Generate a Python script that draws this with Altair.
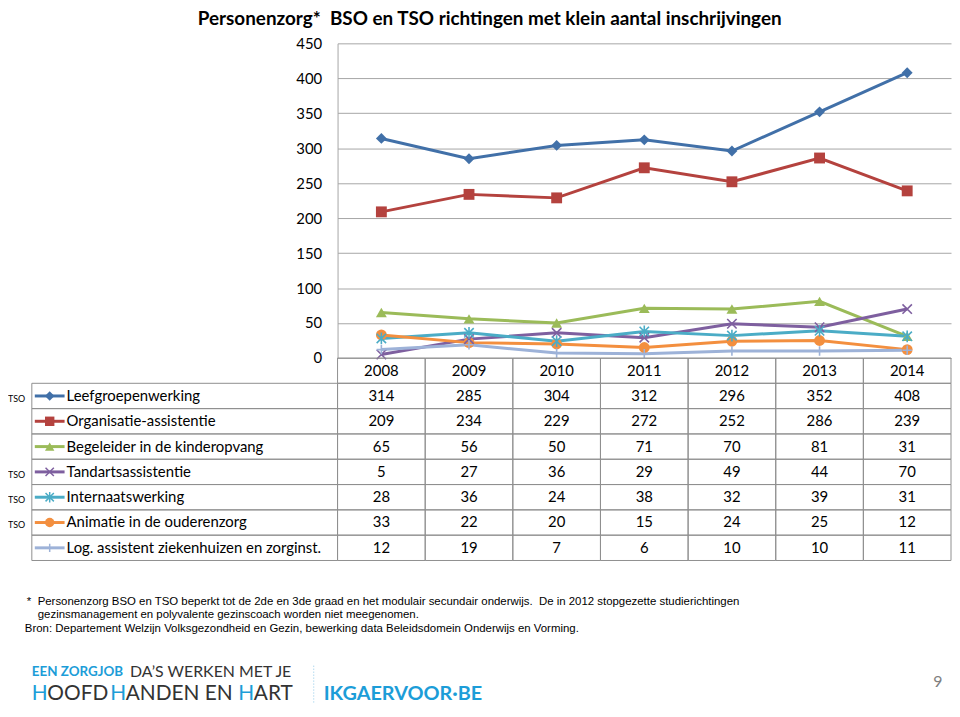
import altair as alt
import pandas as pd

# ---------------- data ----------------
years = ["2008", "2009", "2010", "2011", "2012", "2013", "2014"]
series = [
    "Leefgroepenwerking",
    "Organisatie-assistentie",
    "Begeleider in de kinderopvang",
    "Tandartsassistentie",
    "Internaatswerking",
    "Animatie in de ouderenzorg",
    "Log. assistent ziekenhuizen en zorginst.",
]
v_leefgroep = [314, 285, 304, 312, 296, 352, 408]
v_organisatie = [209, 234, 229, 272, 252, 286, 239]
v_begeleider = [65, 56, 50, 71, 70, 81, 31]
v_tandarts = [5, 27, 36, 29, 49, 44, 70]
v_internaat = [28, 36, 24, 38, 32, 39, 31]
v_animatie = [33, 22, 20, 15, 24, 25, 12]
v_logistiek = [12, 19, 7, 6, 10, 10, 11]
all_values = [v_leefgroep, v_organisatie, v_begeleider, v_tandarts,
              v_internaat, v_animatie, v_logistiek]
tso_flags = ["TSO", "", "", "TSO", "TSO", "TSO", ""]

title_text = "Personenzorg*\u00a0 BSO en TSO richtingen met klein aantal inschrijvingen"
note_1 = "*\u00a0 Personenzorg BSO en TSO beperkt tot de 2de en 3de graad en het modulair secundair onderwijs.\u00a0 De in 2012 stopgezette studierichtingen"
note_2 = "gezinsmanagement en polyvalente gezinscoach worden niet meegenomen."
note_3 = "Bron: Departement Welzijn Volksgezondheid en Gezin, bewerking data Beleidsdomein Onderwijs en Vorming."

# ---------------- styles ----------------
colors = ["#4170A8", "#B4423E", "#9BBB59", "#7E5F9F", "#4BACC6", "#F38F3F", "#9DB2D8"]
X_PATH = "M-1,-1L1,1M1,-1L-1,1"
STAR_PATH = "M-1,-1L1,1M1,-1L-1,1M0,-1.25L0,1.25"
PLUS_PATH = "M0,-1L0,1M-1,0L1,0"
shapes = ["diamond", "square", "triangle-up", X_PATH, STAR_PATH, "circle", PLUS_PATH]
filled = [True, True, True, False, False, True, False]

FONT = "Lato"
GRID = "#a6a6a6"
BORDER = "#8f8f8f"
CYAN = "#1c9dd8"
DARK = "#333333"

# ---------------- tables ----------------
long_rows = []
for s, vals, f in zip(series, all_values, filled):
    for y, v in zip(years, vals):
        long_rows.append({"series": s, "year": y, "value": v, "filled": f})
df = pd.DataFrame(long_rows)

cell_rows = [{"row": "_hdr", "year": y, "text": y} for y in years]
for s, vals in zip(series, all_values):
    for y, v in zip(years, vals):
        cell_rows.append({"row": s, "year": y, "text": str(v)})
cells_df = pd.DataFrame(cell_rows)

leg_df = pd.DataFrame({"series": series, "tso": tso_flags, "filled": filled})

color_scale = alt.Scale(domain=series, range=colors)
shape_scale = alt.Scale(domain=series, range=shapes)
color = alt.Color("series:N", scale=color_scale, legend=None)
shape = alt.Shape("series:N", scale=shape_scale, legend=None)

# ---------------- line chart ----------------
x_line = alt.X("year:O", scale=alt.Scale(type="point", domain=years, padding=0.5), axis=None)
y_line = alt.Y(
    "value:Q",
    scale=alt.Scale(domain=[0, 450], nice=False),
    axis=alt.Axis(values=list(range(0, 451, 50)), grid=True, gridColor=GRID,
                  domainColor=GRID, ticks=False, labelFont=FONT, labelFontSize=15,
                  labelColor="black", labelPadding=16, title=None),
)
base = alt.Chart(df)
lines = base.mark_line(strokeWidth=3).encode(x=x_line, y=y_line, color=color)
pts_f = base.transform_filter("datum.filled").mark_point(
    filled=True, size=120, opacity=1).encode(x=x_line, y=y_line, color=color, shape=shape)
pts_s = base.transform_filter("!datum.filled").mark_point(
    filled=False, size=90, strokeWidth=1.6, opacity=1).encode(x=x_line, y=y_line, color=color, shape=shape)
line_chart = alt.layer(lines, pts_f, pts_s).properties(width=618, height=317)

# ---------------- table chart ----------------
row_scale = alt.Scale(domain=["_hdr"] + series, paddingInner=0, paddingOuter=0)
col_scale = alt.Scale(domain=years, paddingInner=0, paddingOuter=0)
X = alt.X("year:N", scale=col_scale, axis=None)
Y = alt.Y("row:N", scale=row_scale, axis=None)
Yc = alt.Y("row:N", scale=row_scale, axis=None, bandPosition=0.5)
Ys = alt.Y("series:N", scale=row_scale, axis=None)
Ysc = alt.Y("series:N", scale=row_scale, axis=None, bandPosition=0.5)

cells = alt.Chart(cells_df).mark_rect(fillOpacity=0, stroke=BORDER, strokeWidth=1).encode(x=X, y=Y)
cell_text = alt.Chart(cells_df).mark_text(font=FONT, fontSize=15, color="black").encode(
    x=X, y=Yc, text="text:N")
leg_cells = alt.Chart(leg_df).mark_rect(fillOpacity=0, stroke=BORDER, strokeWidth=1).encode(
    x=alt.value(-308), x2=alt.value(0), y=Ys)
leg_text = alt.Chart(leg_df).mark_text(align="left", font=FONT, fontSize=15, color="black").encode(
    x=alt.value(-273), y=Ysc, text="series:N")
leg_rule = alt.Chart(leg_df).mark_rule(strokeWidth=3).encode(
    x=alt.value(-305), x2=alt.value(-275), y=Ysc, color=color)
leg_pf = alt.Chart(leg_df).transform_filter("datum.filled").mark_point(
    filled=True, size=90, opacity=1).encode(x=alt.value(-290), y=Ysc, color=color, shape=shape)
leg_ps = alt.Chart(leg_df).transform_filter("!datum.filled").mark_point(
    filled=False, size=70, strokeWidth=1.5, opacity=1).encode(x=alt.value(-290), y=Ysc, color=color, shape=shape)
tso_text = alt.Chart(leg_df).mark_text(align="left", font=FONT, fontSize=9, color="black", dy=3).encode(
    x=alt.value(-332), y=Ysc, text="tso:N")


def label(txt, x, y, size, col="black", weight="normal", font=FONT, align="left"):
    return alt.Chart(pd.DataFrame({"t": [txt]})).mark_text(
        align=align, baseline="middle", fontSize=size, color=col, fontWeight=weight, font=font
    ).encode(x=alt.value(x), y=alt.value(y), text="t:N")


H_ADV = 15.6  # advance of "H" in Lato at 21px
# positions relative to table origin (page 340, 357)
footer = [
    label(note_1, -313, 246, 11.5, font="Liberation Sans"),
    label(note_2, -302, 259, 11.5, font="Liberation Sans"),
    label(note_3, -315, 273, 11.5, font="Liberation Sans"),
    label("EEN ZORGJOB", -308, 316, 13.5, col=CYAN, weight="bold"),
    label("DA\u2019S WERKEN MET JE", -209, 316, 16, col=DARK),
    label("H", -308, 339, 21, col=CYAN),
    label("OOFD", -308 + H_ADV, 339, 21, col=DARK),
    label("H", -229, 339, 21, col=CYAN),
    label("ANDEN EN", -229 + H_ADV, 339, 21, col=DARK),
    label("H", -100, 339, 21, col=CYAN),
    label("ART", -100 + H_ADV, 339, 21, col=DARK),
    label("IKGAERVOOR\u00b7BE", -14, 339, 20, col=CYAN, weight="bold"),
    label("9", 600, 326, 16, col="#7f7f7f"),
    alt.Chart(pd.DataFrame({"t": [0]})).mark_rule(color="#8cc8e8", strokeDash=[1, 2]).encode(
        x=alt.value(-24), y=alt.value(310), y2=alt.value(349)),
]

table_chart = alt.layer(
    cells, cell_text, leg_cells, leg_text, leg_rule, leg_pf, leg_ps, tso_text, *footer
).properties(width=618, height=204)

chart = alt.vconcat(line_chart, table_chart, spacing=0, bounds="flush").resolve_scale(
    x="independent", y="independent"
).properties(
    title=alt.TitleParams(title_text, font=FONT, fontSize=19, fontWeight="bold",
                          anchor="middle", color="black", dx=10, offset=7),
    padding=0,
).configure_view(stroke=None)

chart.save("out.html", embed_options={"renderer": "svg", "actions": False})
